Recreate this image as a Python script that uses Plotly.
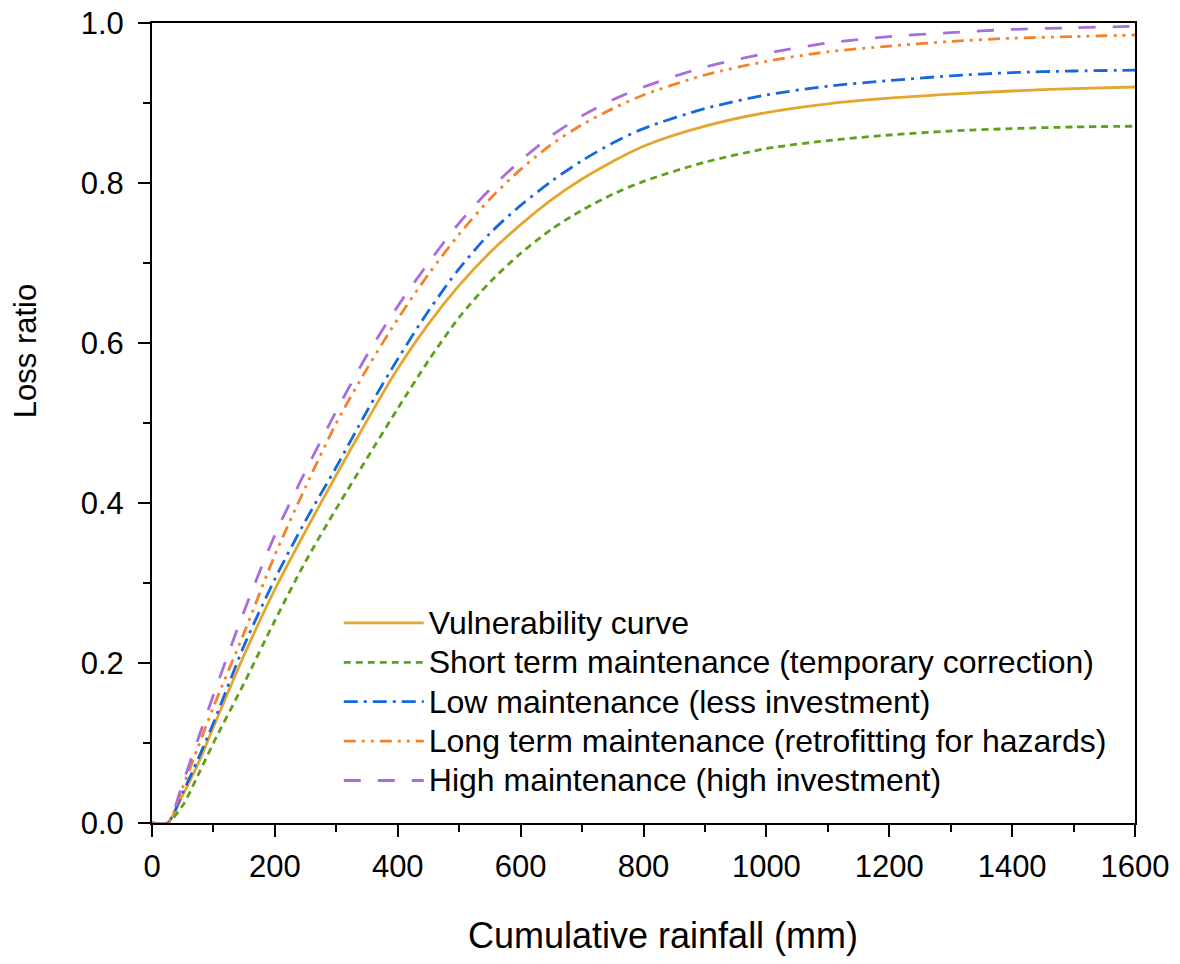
import plotly.graph_objects as go

rainfall = [0, 25, 50, 75, 100, 150, 200, 250, 300, 350, 400, 450, 500, 550, 600,
            650, 700, 750, 800, 900, 1000, 1100, 1200, 1300, 1400, 1500, 1600]

vulnerability = [0, 0.0, 0.035, 0.074, 0.12, 0.21, 0.292, 0.365, 0.435, 0.503, 0.568,
                 0.624, 0.672, 0.713, 0.748, 0.779, 0.805, 0.827, 0.846, 0.871, 0.888,
                 0.899, 0.906, 0.911, 0.915, 0.918, 0.92]
short_term = [0, 0.0, 0.022, 0.06, 0.1, 0.175, 0.253, 0.327, 0.393, 0.456, 0.518,
              0.578, 0.632, 0.676, 0.712, 0.742, 0.766, 0.786, 0.802, 0.826, 0.843,
              0.853, 0.86, 0.865, 0.868, 0.87, 0.871]
low_maint = [0, 0.0, 0.038, 0.08, 0.125, 0.222, 0.305, 0.378, 0.445, 0.515, 0.58,
             0.64, 0.693, 0.737, 0.772, 0.802, 0.828, 0.85, 0.868, 0.893, 0.91,
             0.921, 0.928, 0.934, 0.938, 0.94, 0.941]
long_term = [0, 0.0, 0.045, 0.095, 0.145, 0.238, 0.335, 0.42, 0.5, 0.568, 0.63,
             0.686, 0.736, 0.78, 0.817, 0.848, 0.873, 0.893, 0.91, 0.935, 0.952,
             0.964, 0.971, 0.977, 0.981, 0.983, 0.985]
high_maint = [0, 0.0, 0.05, 0.105, 0.16, 0.265, 0.36, 0.44, 0.515, 0.585, 0.646,
              0.7, 0.75, 0.792, 0.828, 0.859, 0.884, 0.904, 0.92, 0.945, 0.962,
              0.975, 0.983, 0.988, 0.992, 0.994, 0.996]

names = ["Vulnerability curve",
         "Short term maintenance (temporary correction)",
         "Low maintenance (less investment)",
         "Long term maintenance (retrofitting for hazards)",
         "High maintenance (high investment)"]
series = [vulnerability, short_term, low_maint, long_term, high_maint]
colors = ["#E5A630", "#5EA11A", "#1767DD", "#F5822A", "#A86EDD"]
dashes = ["solid", "7px,5px", "14px,6px,3px,6px", "12px,6px,3px,6px,3px,6px", "17px,17px"]

x_title = "Cumulative rainfall (mm)"
y_title = "Loss ratio"

fig = go.Figure()
for name, ys, c, d in zip(names, series, colors, dashes):
    fig.add_trace(go.Scatter(
        x=rainfall, y=ys, mode="lines",
        name='<span style="font-size:32px">' + name + '</span>',
        line=dict(color=c, width=2.8, dash=d, shape="spline", smoothing=0.8)))

font_main = "Arial, Liberation Sans, sans-serif"
fig.update_layout(
    width=1180, height=964,
    margin=dict(l=151.5, r=45, t=23, b=141),
    paper_bgcolor="white", plot_bgcolor="white",
    font=dict(family=font_main, size=31, color="black"),
    showlegend=True,
    legend=dict(x=0.19, y=0.281, xanchor="left", yanchor="top",
                bgcolor="rgba(0,0,0,0)", borderwidth=0,
                font=dict(family=font_main, size=28, color="black"),
                itemwidth=80, tracegroupgap=0),
    annotations=[
        dict(text=x_title, xref="paper", yref="paper", x=0.52, y=-0.14,
             xanchor="center", yanchor="middle", showarrow=False,
             font=dict(family=font_main, size=36, color="black")),
        dict(text=y_title, xref="paper", yref="paper", x=-0.129, y=0.59,
             xanchor="center", yanchor="middle", showarrow=False, textangle=-90,
             font=dict(family=font_main, size=31, color="black")),
    ],
)
fig.update_xaxes(
    range=[0, 1600], tickvals=[0, 200, 400, 600, 800, 1000, 1200, 1400, 1600],
    showgrid=False, zeroline=False, automargin=False,
    showline=True, linecolor="black", linewidth=2, mirror=True,
    ticks="outside", ticklen=12, tickwidth=2, tickcolor="black",
    tickfont=dict(family=font_main, size=31),
    ticklabelstandoff=3,
    minor=dict(dtick=100, ticks="outside", ticklen=7, tickwidth=2, tickcolor="black"),
)
fig.update_yaxes(
    range=[0, 1.0], tickvals=[0, 0.2, 0.4, 0.6, 0.8, 1.0],
    ticktext=["0.0", "0.2", "0.4", "0.6", "0.8", "1.0"],
    showgrid=False, zeroline=False, automargin=False,
    showline=True, linecolor="black", linewidth=2, mirror=True,
    ticks="outside", ticklen=12, tickwidth=2, tickcolor="black",
    tickfont=dict(family=font_main, size=31),
    ticklabelstandoff=8,
    minor=dict(dtick=0.1, ticks="outside", ticklen=7, tickwidth=2, tickcolor="black"),
)
fig.write_html("out.html")
